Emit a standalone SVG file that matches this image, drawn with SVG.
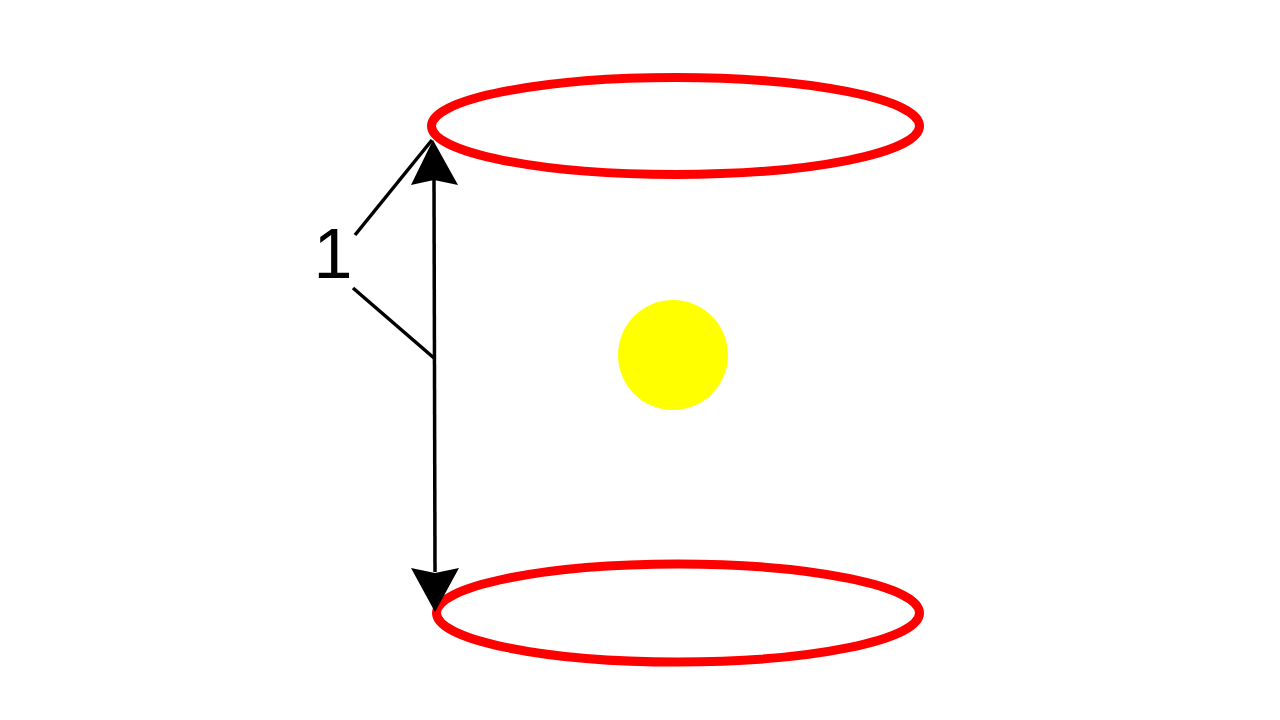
<svg xmlns="http://www.w3.org/2000/svg" width="1280" height="720" viewBox="0 0 1280 720">
<style>
.ring{fill:none;stroke:#ff0000;stroke-width:9}
.ln{fill:none;stroke:#000;stroke-width:3.5}
.lbl{font-family:"Liberation Sans",Arial,sans-serif;font-size:70px;fill:#000}
</style>
<rect width="1280" height="720" fill="#fff"/>
<g id="top-ring"><ellipse class="ring" cx="675.5" cy="126" rx="244" ry="48.5"/></g>
<g id="bottom-ring"><ellipse class="ring" cx="678" cy="613" rx="241.5" ry="49"/></g>
<g id="center-dot"><circle cx="673" cy="355" r="55" fill="#ffff00"/></g>
<g id="connectors">
<line class="ln" x1="434" y1="178" x2="435" y2="572"/>
<polygon points="433,140 458,185 434,180 411,185" fill="#000"/>
<polygon points="435,612 411,568 435,573 459,568" fill="#000"/>
<line class="ln" x1="355" y1="235" x2="432" y2="140"/>
<line class="ln" x1="353" y1="288" x2="434" y2="358"/>
</g>
<g id="label-1"><text class="lbl" x="333" y="278" text-anchor="middle">1</text></g>
</svg>
